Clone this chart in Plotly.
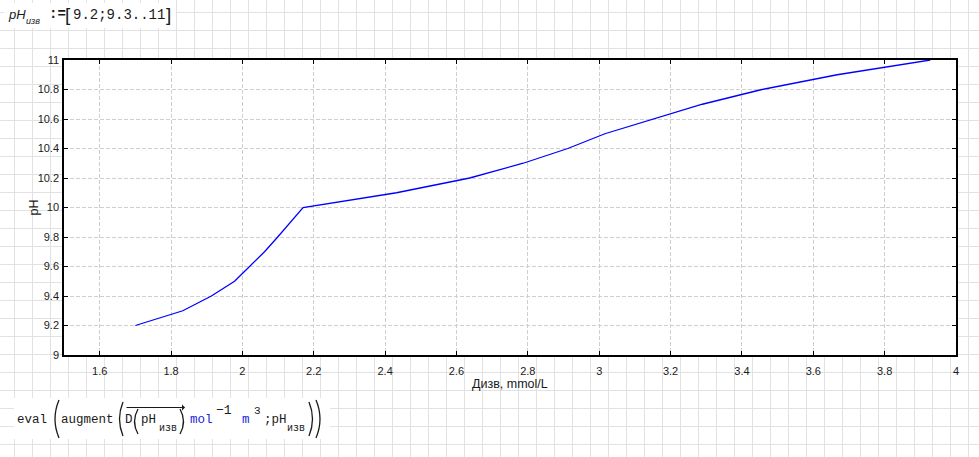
import plotly.graph_objects as go

# ---- data ----
D_izv = [1.700, 1.833, 1.913, 1.978, 2.020, 2.062, 2.099, 2.135, 2.170, 2.432,
         2.637, 2.787, 2.912, 3.016, 3.152, 3.289, 3.456, 3.667, 3.928]
pH_izv = [9.2, 9.3, 9.4, 9.5, 9.6, 9.7, 9.8, 9.9, 10.0, 10.1,
          10.2, 10.3, 10.4, 10.5, 10.6, 10.7, 10.8, 10.9, 11.0]
x_tickvals = [1.6, 1.8, 2.0, 2.2, 2.4, 2.6, 2.8, 3.0, 3.2, 3.4, 3.6, 3.8, 4.0]
x_ticktext = ["1.6", "1.8", "2", "2.2", "2.4", "2.6", "2.8", "3", "3.2", "3.4", "3.6", "3.8", "4"]
y_tickvals = [9.0, 9.2, 9.4, 9.6, 9.8, 10.0, 10.2, 10.4, 10.6, 10.8, 11.0]
y_ticktext = ["9", "9.2", "9.4", "9.6", "9.8", "10", "10.2", "10.4", "10.6", "10.8", "11"]
x_title = "Дизв, mmol/L"
y_title = "pH"

# ---- layout geometry ----
W, H = 979, 457
L, R, T, B = 64, 23, 60, 102
PW = W - L - R
PH = H - T - B


def px(x):
    return (x - L) / PW


def py(y):
    return (H - B - y) / PH


MONO = "Liberation Mono, Courier New, monospace"
SANS = "Liberation Sans, Arial, sans-serif"
TXT = "#1a1a1a"
BLUE = "#2222dd"

shapes = []
# worksheet grid
segs = []
x = 14
while x < W:
    segs.append(f"M{px(x + 0.5)},{py(0)}L{px(x + 0.5)},{py(H)}")
    x += 18
y = 12
while y < H:
    segs.append(f"M{px(0)},{py(y + 0.5)}L{px(W)},{py(y + 0.5)}")
    y += 18
shapes.append(dict(type="path", xref="paper", yref="paper", path="".join(segs),
                   line=dict(color="#e2e2e2", width=1), layer="below"))
# white regions (plot area and math regions)
for (x0, y0, x1, y1) in [(L, T, W - R, H - B), (4, 3, 176, 28), (14, 398, 330, 439)]:
    shapes.append(dict(type="rect", xref="paper", yref="paper",
                       x0=px(x0), x1=px(x1), y0=py(y1), y1=py(y0),
                       fillcolor="white", line=dict(width=0), layer="below"))


def paren(x0, y0, x1, y1, left=True):
    ym = (y0 + y1) / 2
    if left:
        p = f"M{px(x1)},{py(y0)}Q{px(x0 - 2)},{py(ym)} {px(x1)},{py(y1)}"
    else:
        p = f"M{px(x0)},{py(y0)}Q{px(x1 + 2)},{py(ym)} {px(x0)},{py(y1)}"
    shapes.append(dict(type="path", xref="paper", yref="paper", path=p,
                       line=dict(color=TXT, width=1.3), layer="above"))


paren(53, 400, 59, 438, True)
paren(118, 402, 123, 436, True)
paren(133, 409, 138, 434, True)
paren(180, 409, 185, 434, False)
paren(309, 402, 314, 436, False)
paren(316, 400, 322, 438, False)

annotations = []


def ann(text, x, y, size, family, color=TXT, xanchor="left", textangle=0):
    annotations.append(dict(text=text, x=px(x), y=py(y), xref="paper", yref="paper",
                            xanchor=xanchor, yanchor="middle", showarrow=False,
                            textangle=textangle,
                            font=dict(size=size, family=family, color=color)))


# top definition
ann("<i>pH</i>", 6, 14, 13, SANS)
ann("<i>изв</i>", 24, 21, 9, SANS)
ann("<b>:=</b>", 47, 14, 14, MONO)
ann("[", 63, 14, 19, SANS)
ann("9.2;9.3..11", 71, 15, 14, MONO)
ann("]", 164, 14, 19, SANS)

# axis titles
ann(x_title, (L + W - R) / 2, 384, 12.5, SANS, xanchor="center")
ann(y_title, 33, (T + H - B) / 2, 12.5, SANS, xanchor="center", textangle=-90)

# bottom expression
ann("eval", 15, 420, 12.5, MONO)
ann("augment", 59, 420, 12.5, MONO)
ann("D", 123, 420, 12.5, MONO)
ann("pH", 139, 420, 12.5, MONO)
ann("изв", 157, 428, 10, MONO)
ann("mol", 188, 420, 12.5, MONO, BLUE)
ann("−1", 214, 410, 13, MONO)
ann("m", 240, 420, 12.5, MONO, BLUE)
ann("3", 252, 411, 11, MONO)
ann(";pH", 262, 420, 12.5, MONO)
ann("изв", 285, 428, 10, MONO)
# vector arrow above D(pH)
annotations.append(dict(text="", x=px(185), y=py(407.5), xref="paper", yref="paper",
                        ax=-60, ay=0, showarrow=True, arrowhead=1, arrowsize=1,
                        arrowwidth=1, arrowcolor=TXT))

fig = go.Figure()
fig.add_trace(go.Scatter(x=D_izv, y=pH_izv, mode="lines",
                         line=dict(color="#0000ff", width=1.3), hoverinfo="skip"))

axis_common = dict(showgrid=True, gridcolor="#cfcfcf", gridwidth=1, griddash="4px,2px",
                   ticks="inside", ticklen=4, tickwidth=1.3, tickcolor="black",
                   showline=True, linecolor="black", linewidth=1.5, mirror="ticks",
                   zeroline=False, tickfont=dict(family=SANS, size=11, color=TXT))

fig.update_layout(
    width=W, height=H,
    margin=dict(l=L, r=R, t=T, b=B, pad=0),
    paper_bgcolor="white", plot_bgcolor="rgba(0,0,0,0)",
    showlegend=False,
    xaxis=dict(range=[1.5, 4], tickvals=x_tickvals, ticktext=x_ticktext,
               ticklabelstandoff=5, **axis_common),
    yaxis=dict(range=[9, 11], tickvals=y_tickvals, ticktext=y_ticktext,
               ticklabelstandoff=1, **axis_common),
    shapes=shapes, annotations=annotations,
)

fig.write_html("out.html", config={"displayModeBar": False},
               post_script="document.body.style.margin='0';document.body.style.overflow='hidden';")
